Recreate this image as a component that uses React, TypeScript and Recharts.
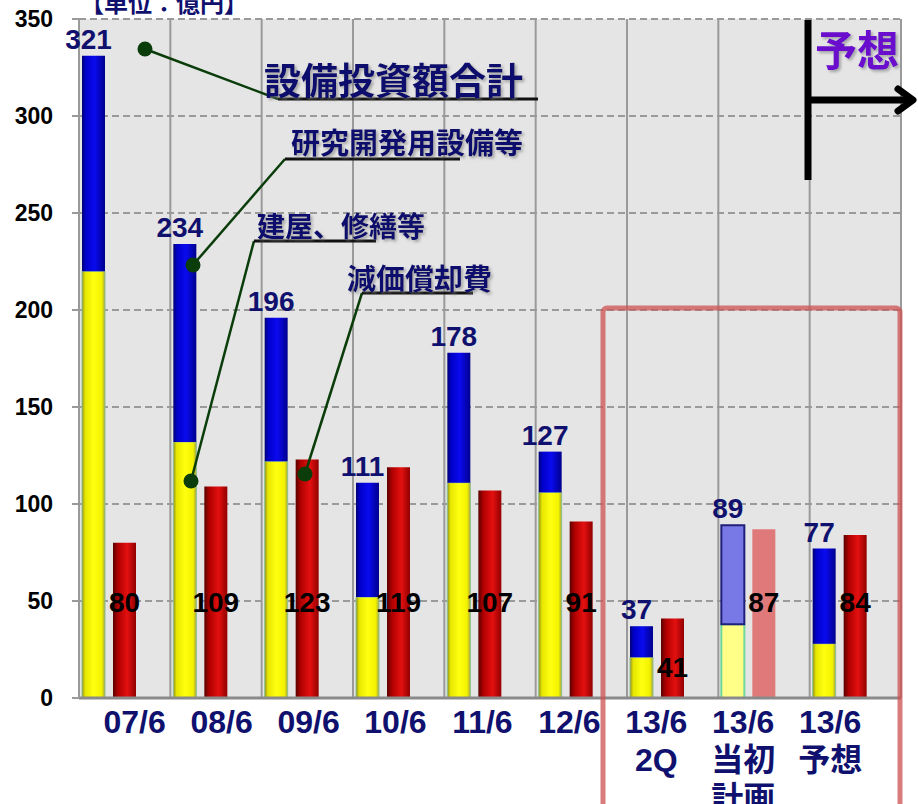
import React from 'react';
import { BarChart, Bar, XAxis, YAxis, CartesianGrid, LabelList, Cell } from 'recharts';

const categories = ['07/6', '08/6', '09/6', '10/6', '11/6', '12/6', '13/6\n2Q', '13/6\n当初\n計画', '13/6\n予想'];
const buildingRepair = [220, 132, 122, 52, 111, 106, 21, 38, 28];
const rdEquipment = [111, 102, 74, 59, 67, 21, 16, 51, 49];
const capexTotalLabels = [321, 234, 196, 111, 178, 127, 37, 89, 77];
const depreciation = [80, 109, 123, 119, 107, 91, 41, 87, 84];
const yTicks = [0, 50, 100, 150, 200, 250, 300, 350];
const planIndex = 7;

const NAVY = '#10106e';
const NUM_FONT = "'Liberation Sans', Arial, sans-serif";
const CJK_FONT = "'Liberation Sans', 'Noto Sans CJK JP', sans-serif";

const data = categories.map((name, i) => ({
  name,
  building: buildingRepair[i],
  rd: rdEquipment[i],
  total: capexTotalLabels[i],
  dep: depreciation[i],
}));

const XTick = (props: any) => {
  const { x, y, payload } = props;
  const idx = categories.indexOf(payload.value);
  const lines = String(payload.value).split('\n');
  const cx = x + 10 - idx * 4.4;
  return (
    <g>
      {lines.map((l, k) => (
        <text key={k} x={cx} y={y + 35 + k * 38} textAnchor="middle" fill={NAVY}
          fontSize={32} fontWeight="bold" fontFamily={CJK_FONT}>{l}</text>
      ))}
    </g>
  );
};

const TotalLabel = (props: any) => {
  const { x, y, width, value } = props;
  return (
    <text x={x + width / 2 - 5} y={y - 7} textAnchor="middle" fill={NAVY}
      fontSize={28} fontWeight="bold" fontFamily={NUM_FONT}>{value}</text>
  );
};

const DepLabel = (props: any) => {
  const { x, y, width, height, value } = props;
  const bottom = y + height;
  const base = height > 110 ? bottom - 86 : bottom - 21;
  return (
    <text x={x + width / 2} y={base} textAnchor="middle" fill="#000"
      fontSize={28} fontWeight="bold" fontFamily={NUM_FONT}>{value}</text>
  );
};

const Annotation = ({ dot, knee, end, text, tx, ty, size }: any) => (
  <g>
    <line x1={dot[0]} y1={dot[1]} x2={knee[0]} y2={knee[1]} stroke="#0b3d0b" strokeWidth={2.5} />
    <line x1={knee[0]} y1={knee[1]} x2={end} y2={knee[1]} stroke="#111" strokeWidth={3} />
    <circle cx={dot[0]} cy={dot[1]} r={7.5} fill="#0b3d0b" />
    <text x={tx} y={ty} fill={NAVY} fontSize={size} fontWeight="bold" fontFamily="'Noto Sans CJK JP', sans-serif"
      dominantBaseline="central" filter="url(#txtShadow)">{text}</text>
  </g>
);

export default function App() {
  return (
    <div style={{ position: 'absolute', left: 0, top: 0, width: 918, height: 804, background: '#fff', overflow: 'hidden' }}>
      <BarChart width={918} height={804} data={data} barSize={23} barGap={8}
        margin={{ top: 19, right: 17, bottom: 0, left: 0 }}>
        <defs>
          <linearGradient id="yellowGrad" x1="0" y1="0" x2="1" y2="0">
            <stop offset="0%" stopColor="#8f8f20" />
            <stop offset="14%" stopColor="#e6e600" />
            <stop offset="50%" stopColor="#ffff10" />
            <stop offset="86%" stopColor="#f2f200" />
            <stop offset="100%" stopColor="#a4a440" />
          </linearGradient>
          <linearGradient id="blueGrad" x1="0" y1="0" x2="1" y2="0">
            <stop offset="0%" stopColor="#000070" />
            <stop offset="16%" stopColor="#0000c8" />
            <stop offset="55%" stopColor="#0a0af0" />
            <stop offset="100%" stopColor="#00008c" />
          </linearGradient>
          <linearGradient id="redGrad" x1="0" y1="0" x2="1" y2="0">
            <stop offset="0%" stopColor="#5a0000" />
            <stop offset="22%" stopColor="#b00000" />
            <stop offset="62%" stopColor="#e41010" />
            <stop offset="100%" stopColor="#920000" />
          </linearGradient>
        </defs>
        <CartesianGrid vertical={false} fill="#e5e5e5" stroke="#9a9a9a" strokeWidth={2} strokeDasharray="7 4" />
        <CartesianGrid horizontal={false} stroke="#9a9a9a" strokeWidth={2}
          verticalCoordinatesGenerator={({ offset }: any) =>
            categories.map((_, i) => offset.left + ((i + 1) * offset.width) / categories.length)} />
        <XAxis dataKey="name" interval={0} tickLine={false} tickSize={0} tickMargin={0}
          axisLine={{ stroke: '#8a8a8a', strokeWidth: 3 }} tick={<XTick />} height={106} />
        <YAxis domain={[0, 350]} ticks={yTicks} width={79} tickSize={7} tickMargin={19}
          axisLine={{ stroke: '#9a9a9a', strokeWidth: 2 }} tickLine={{ stroke: '#9a9a9a', strokeWidth: 2 }}
          tick={{ fill: '#000', fontSize: 23, fontWeight: 'bold', fontFamily: NUM_FONT }} />
        <Bar dataKey="building" stackId="capex" fill="url(#yellowGrad)" stroke="#8fc08f" strokeWidth={1} isAnimationActive={false}>
          {data.map((_, i) => (
            <Cell key={i} fill={i === planIndex ? '#ffff88' : 'url(#yellowGrad)'} stroke={i === planIndex ? '#6fd89a' : '#8fc08f'} strokeWidth={i === planIndex ? 2 : 1} />
          ))}
        </Bar>
        <Bar dataKey="rd" stackId="capex" fill="url(#blueGrad)" isAnimationActive={false}>
          {data.map((_, i) => (
            <Cell key={i} fill={i === planIndex ? '#7878e6' : 'url(#blueGrad)'} stroke={i === planIndex ? '#20207a' : 'none'} strokeWidth={2} />
          ))}
          <LabelList dataKey="total" content={<TotalLabel />} />
        </Bar>
        <Bar dataKey="dep" fill="url(#redGrad)" isAnimationActive={false}>
          {data.map((_, i) => (
            <Cell key={i} fill={i === planIndex ? '#e07a7a' : 'url(#redGrad)'} />
          ))}
          <LabelList dataKey="dep" content={<DepLabel />} />
        </Bar>
        <Bar dataKey="pad" fill="transparent" isAnimationActive={false} />
      </BarChart>

      <svg width={918} height={804} style={{ position: 'absolute', left: 0, top: 0, pointerEvents: 'none' }}>
        <defs>
          <filter id="txtShadow" x="-10%" y="-20%" width="130%" height="150%">
            <feDropShadow dx="2" dy="2" stdDeviation="1.5" floodColor="#777" floodOpacity="0.6" />
          </filter>
        </defs>
        <text x={80} y={1} fill={NAVY} fontSize={24} fontWeight="bold" fontFamily="'Noto Sans CJK JP', sans-serif"
          dominantBaseline="central">【単位：億円】</text>

        <Annotation dot={[145, 49]} knee={[278, 99]} end={538} text="設備投資額合計" tx={264} ty={79} size={37} />
        <Annotation dot={[193, 265]} knee={[285, 159]} end={460} text="研究開発用設備等" tx={291} ty={141} size={29} />
        <Annotation dot={[191, 481]} knee={[254, 241]} end={376} text="建屋、修繕等" tx={257} ty={225} size={28} />
        <Annotation dot={[305, 474]} knee={[362, 293]} end={473} text="減価償却費" tx={347} ty={277} size={29} />

        <rect x={603} y={308} width={297} height={520} rx={4} fill="none" stroke="rgba(205,80,80,0.75)" strokeWidth={5} />

        <line x1={808} y1={20} x2={808} y2={180} stroke="#000" strokeWidth={7} />
        <line x1={808} y1={100} x2={912} y2={100} stroke="#000" strokeWidth={7} />
        <polyline points="898,89 913,100 898,111" fill="none" stroke="#000" strokeWidth={7} strokeLinecap="round" strokeLinejoin="round" />
        <text x={815} y={47} fill="#6a0ccc" fontSize={42} fontWeight="bold" fontFamily="'Noto Sans CJK JP', sans-serif"
          dominantBaseline="central" filter="url(#txtShadow)">予想</text>
      </svg>
    </div>
  );
}
